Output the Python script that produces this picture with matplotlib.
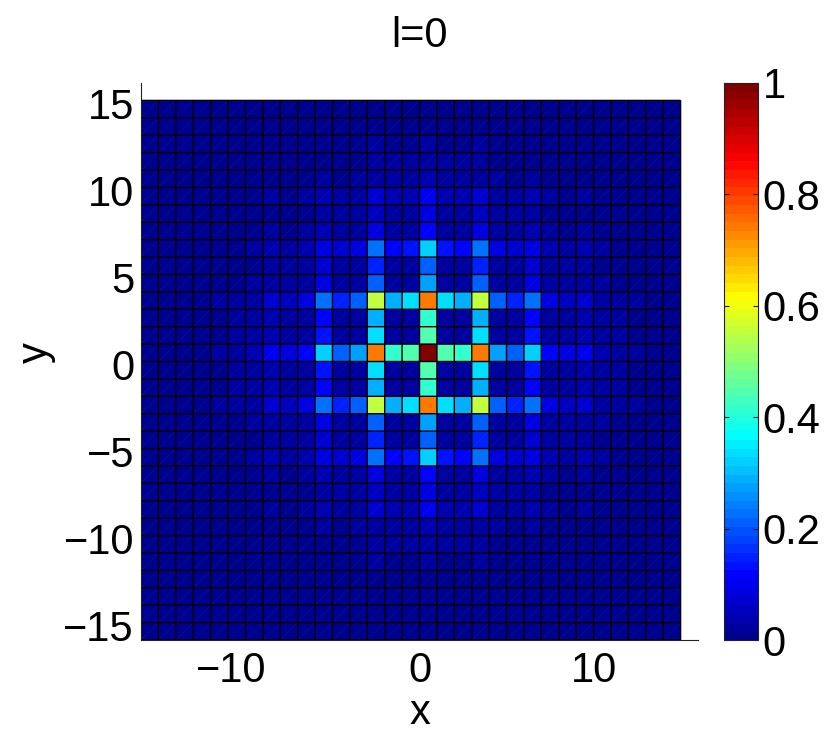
import numpy as np
import matplotlib
matplotlib.use("Agg")
import matplotlib.pyplot as plt
from matplotlib.collections import LineCollection
from matplotlib.colors import LinearSegmentedColormap
from matplotlib.transforms import ScaledTranslation

plt.rcParams["font.family"] = ["Liberation Sans", "DejaVu Sans"]
FS = 30

# values, one quadrant: row = |y cell|, col = |x cell|
ROW_0 = [1.00, .45, .415, .74, .27, .205, .315, .11, .085, .10, .035, .02, .02, .015, .015, .01, .01]
ROW_1 = [.45, .025, .025, .335, .025, .02, .14, .03, .03, .045, .02, .02, .015, .015, .01, .01, .01]
ROW_2 = [.415, .025, .025, .295, .03, .03, .115, .03, .03, .04, .02, .02, .015, .015, .01, .01, .01]
ROW_3 = [.74, .335, .295, .55, .215, .15, .23, .08, .05, .07, .025, .02, .02, .015, .015, .01, .01]
ROW_4 = [.27, .025, .03, .215, .03, .03, .09, .03, .025, .03, .02, .015, .015, .015, .01, .01, .01]
ROW_5 = [.205, .02, .03, .15, .03, .03, .07, .025, .02, .025, .015, .015, .015, .01, .01, .01, .01]
ROW_6 = [.315, .14, .115, .23, .09, .07, .09, .035, .03, .035, .02, .015, .015, .015, .01, .01, .01]
ROW_7 = [.11, .03, .03, .08, .03, .025, .035, .02, .015, .02, .015, .015, .01, .01, .01, .01, .01]
ROW_8 = [.085, .03, .03, .05, .025, .02, .03, .015, .015, .015, .015, .01, .01, .01, .01, .01, .01]
ROW_9 = [.10, .04, .04, .07, .03, .025, .035, .02, .015, .02, .015, .015, .01, .01, .01, .01, .01]
ROW_10 = [.035, .02, .02, .025, .02, .015, .02, .015, .015, .015, .01, .01, .01, .01, .01, .01, .005]
ROW_11 = [.02, .02, .02, .02, .015, .015, .015, .015, .01, .015, .01, .01, .01, .01, .01, .005, .005]
ROW_12 = [.02, .015, .015, .02, .015, .015, .015, .01, .01, .01, .01, .01, .01, .01, .005, .005, .005]
ROW_13 = [.015, .015, .015, .015, .015, .01, .015, .01, .01, .01, .01, .01, .01, .005, .005, .005, .005]
ROW_14 = [.015, .01, .01, .015, .01, .01, .01, .01, .01, .01, .01, .01, .005, .005, .005, .005, .005]
ROW_15 = [.01, .01, .01, .01, .01, .01, .01, .01, .01, .01, .01, .005, .005, .005, .005, .005, .005]
ROW_16 = [.01, .01, .01, .01, .01, .01, .01, .01, .01, .01, .005, .005, .005, .005, .005, .005, .005]
QUAD = np.array([ROW_0, ROW_1, ROW_2, ROW_3, ROW_4, ROW_5, ROW_6, ROW_7, ROW_8,
                 ROW_9, ROW_10, ROW_11, ROW_12, ROW_13, ROW_14, ROW_15, ROW_16])

X_EDGES = np.arange(-16, 16)
Y_EDGES = np.arange(-16, 16)
X_TICKS = [-10, 0, 10]
Y_TICKS = [-15, -10, -5, 0, 5, 10, 15]
CB_TICKS = [0, 0.2, 0.4, 0.6, 0.8, 1]
CB_LABELS = ["0", "0.2", "0.4", "0.6", "0.8", "1"]

# old MATLAB jet, 64 levels
jet64 = LinearSegmentedColormap.from_list(
    "jet64",
    [(0, (0, 0, .5625)), (.11, (0, 0, 1)), (.365, (0, 1, 1)), (.615, (1, 1, 0)),
     (.865, (1, 0, 0)), (1, (.5, 0, 0))], N=64)

# cells are indexed by |x|,|y|, the picture is mirror symmetric
ix = np.abs(X_EDGES[:-1])
iy = np.abs(Y_EDGES[:-1])
Z = QUAD[np.ix_(iy, ix)]

W, H = 830, 736
fig = plt.figure(figsize=(W / 100, H / 100), dpi=100)
ax = fig.add_axes([141 / W, 1 - 640 / H, 557 / W, 557 / H])
mesh = ax.pcolormesh(X_EDGES, Y_EDGES, Z, cmap=jet64, vmin=0, vmax=1)

# the faint diagonals left by the triangulated patches
segs = [[(x, y), (x + 1, y + 1)] for x in X_EDGES[:-1] for y in Y_EDGES[:-1]]
ax.add_collection(LineCollection(segs, colors="white", linewidths=0.5, alpha=0.05))

# cell borders one by one, unsnapped so they blur evenly like the original
for y in Y_EDGES:
    ax.plot([X_EDGES[0], X_EDGES[-1]], [y, y], color="black", lw=1.0, solid_capstyle="butt", snap=False)
for x in X_EDGES:
    ax.plot([x, x], [Y_EDGES[0], Y_EDGES[-1]], color="black", lw=1.0, solid_capstyle="butt", snap=False)

ax.set_xlim(-16, 16)
ax.set_ylim(-16, 16)
ax.spines["top"].set_visible(False)
ax.spines["right"].set_visible(False)
for s in ("left", "bottom"):
    ax.spines[s].set_linewidth(0.8)
    ax.spines[s].set_color("#222222")
ax.set_xticks(X_TICKS, [str(v).replace("-", "\u2212") for v in X_TICKS], fontsize=FS)
ax.set_yticks(Y_TICKS, [str(v).replace("-", "\u2212") for v in Y_TICKS], fontsize=FS)
ax.tick_params(length=0)
ax.tick_params(axis="x", pad=8)
ax.tick_params(axis="y", pad=5)

# negative x labels sit left of their tick in the original
for lab, v in zip(ax.get_xticklabels(), X_TICKS):
    if v < 0:
        lab.set_transform(lab.get_transform() + ScaledTranslation(-14 / 100, 0, fig.dpi_scale_trans))
for lab in ax.get_yticklabels():
    lab.set_transform(lab.get_transform() + ScaledTranslation(0, -3 / 100, fig.dpi_scale_trans))

fig.text(420 / W, 1 - 36 / H, "l=0", fontsize=FS, ha="center", va="center")
fig.text(420 / W, 1 - 713 / H, "x", fontsize=FS, ha="center", va="center")
fig.text(36 / W, 1 - 353 / H, "y", fontsize=FS, ha="center", va="center", rotation=90)

cax = fig.add_axes([724 / W, 1 - 640 / H, 34 / W, 557 / H])
cb = fig.colorbar(mesh, cax=cax, drawedges=False)
cb.set_ticks(CB_TICKS, labels=CB_LABELS)
cax.tick_params(axis="y", which="both", left=True, right=True, labelleft=False, labelright=True,
                direction="in", length=3.5, width=0.8, labelsize=FS, pad=3.5, color="#222222")
cb.outline.set_linewidth(0.8)
cb.outline.set_edgecolor("#222222")

fig.savefig("out.png", dpi=100, facecolor="white")
